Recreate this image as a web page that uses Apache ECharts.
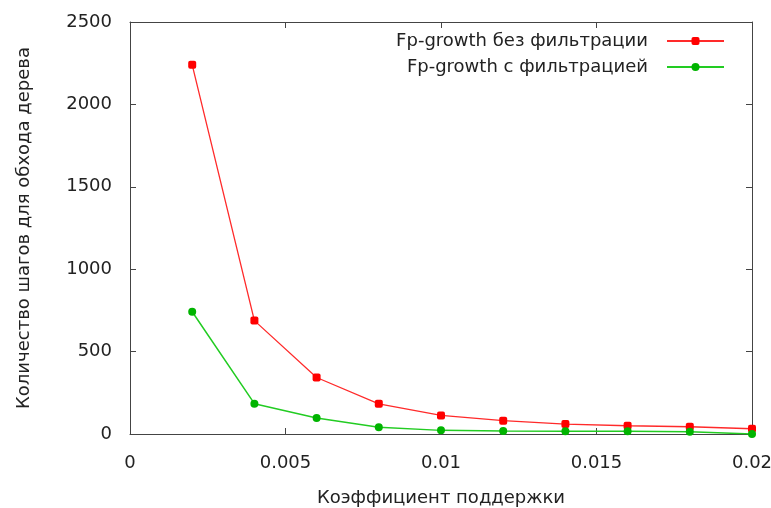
<!DOCTYPE html>
<html><head><meta charset="utf-8">
<script src="https://cdn.jsdelivr.net/npm/echarts@6/dist/echarts.min.js"></script>
<style>html,body{margin:0;padding:0;background:#fff}#c{width:771px;height:508px}</style>
</head><body><div id="c"></div>
<script>
const xValues = [0.002, 0.004, 0.006, 0.008, 0.010, 0.012, 0.014, 0.016, 0.018, 0.020];
const seriesNames = ['Fp-growth без фильтрации', 'Fp-growth с фильтрацией'];
const noFilter = [2240, 688, 343, 183, 113, 81, 60, 50, 44, 32];
const withFilter = [742, 184, 97, 41, 22, 18, 17, 16, 14, 0];
const xTickLabels = ['0', '0.005', '0.01', '0.015', '0.02'];
const yTickLabels = ['0', '500', '1000', '1500', '2000', '2500'];
const xTitle = 'Коэффициент поддержки';
const yTitle = 'Количество шагов для обхода дерева';

const font = 'DejaVu Sans';
const chart = echarts.init(document.getElementById('c'));
const lbl = {fontFamily: font, fontSize: 18, color: '#222'};
const frame = {show: true, onZero: false, lineStyle: {color: '#444', width: 1}};
const tick = {show: true, inside: true, length: 6, lineStyle: {color: '#444'}};
chart.setOption({
  animation: false,
  grid: {left: 130, right: 19, top: 22, bottom: 74, outerBoundsMode: 'none', containLabel: false},
  legend: {
    orient: 'vertical', right: 41, top: 27, align: 'right',
    itemWidth: 57, itemHeight: 10, itemGap: 8,
    textStyle: {fontFamily: font, fontSize: 18, color: '#222', padding: [0, 14, 0, 0]},
    data: seriesNames
  },
  xAxis: [{
    type: 'value', min: 0, max: 0.02, interval: 0.005,
    axisLine: frame, axisTick: tick, splitLine: {show: false},
    axisLabel: {...lbl, margin: 20, formatter: (v, i) => xTickLabels[i]},
    name: xTitle, nameLocation: 'middle', nameGap: 55,
    nameTextStyle: {fontFamily: font, fontSize: 18, color: '#222'}
  }, {
    type: 'value', position: 'top', min: 0, max: 0.02, interval: 0.005,
    axisLine: frame, axisTick: tick, axisLabel: {show: false}, splitLine: {show: false}
  }],
  yAxis: [{
    type: 'value', min: 0, max: 2500, interval: 500,
    axisLine: frame, axisTick: tick, splitLine: {show: false},
    axisLabel: {...lbl, margin: 18, formatter: (v, i) => yTickLabels[i]},
    name: yTitle, nameLocation: 'middle', nameGap: 97,
    nameTextStyle: {fontFamily: font, fontSize: 18, color: '#222'}
  }, {
    type: 'value', position: 'right', min: 0, max: 2500, interval: 500,
    axisLine: frame, axisTick: tick, axisLabel: {show: false}, splitLine: {show: false}
  }],
  series: [{
    name: seriesNames[0], type: 'line',
    data: xValues.map((x, i) => [x, noFilter[i]]),
    symbol: 'roundRect', symbolSize: 8,
    itemStyle: {color: '#ff0000'}, lineStyle: {color: '#ff2a2a', width: 1.3}
  }, {
    name: seriesNames[1], type: 'line',
    data: xValues.map((x, i) => [x, withFilter[i]]),
    symbol: 'circle', symbolSize: 8,
    itemStyle: {color: '#00b400'}, lineStyle: {color: '#22cc22', width: 1.5}
  }]
});
</script></body></html>
